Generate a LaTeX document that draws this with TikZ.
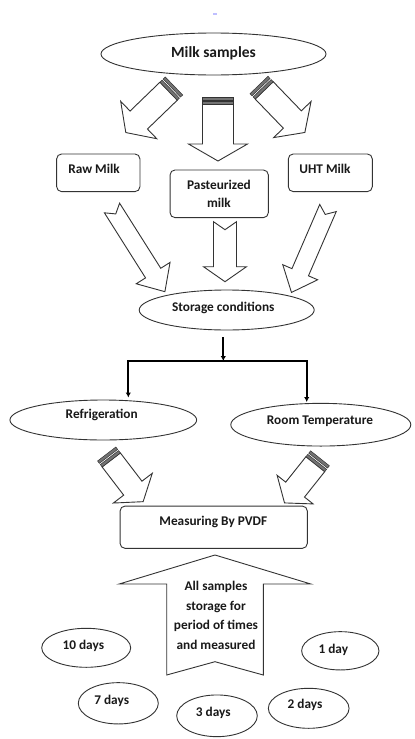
\documentclass[tikz,border=0pt]{standalone}
\usepackage{fontspec}
\setmainfont{Carlito}
\usetikzlibrary{shapes.geometric,arrows.meta,calc}
\tikzset{
  outl/.style={draw=black!80, line width=0.9pt},
  ell/.style={outl, ellipse, inner sep=0pt},
  box/.style={outl, rounded corners=5pt, inner sep=0pt},
  lbl/.style={font=\fontsize{13.3}{18}\selectfont\bfseries, text=black!90, inner sep=0pt, align=center},
  blk/.style={outl, fill=white, line join=miter},
  stripe/.style={draw=black!80, line width=0.5pt, fill=black!55},
  conn/.style={draw=black, line width=1.7pt},
}
% striped block arrow: x, y, angle, length, half shaft, half head, head length
\newcommand{\sarrow}[7]{%
  \begin{scope}[shift={(#1,#2)}, rotate=#3]
    \draw[blk] (7.5,#5) -- ({#4-#7},#5) -- ({#4-#7},#6) -- (#4,0) -- ({#4-#7},-#6) -- ({#4-#7},-#5) -- (7.5,-#5) -- cycle;
    \draw[stripe] (0,-#5) rectangle (3,#5);
    \draw[stripe] (4.5,-#5) rectangle (7.5,#5);
  \end{scope}}
% notched block arrow: x, y, angle, length, half shaft, half head, head length, notch
\newcommand{\narrow}[8]{%
  \begin{scope}[shift={(#1,#2)}, rotate=#3]
    \draw[blk] (0,#5) -- ({#4-#7},#5) -- ({#4-#7},#6) -- (#4,0) -- ({#4-#7},-#6) -- ({#4-#7},-#5) -- (0,-#5) -- (#8,0) -- cycle;
  \end{scope}}
\begin{document}
\begin{tikzpicture}[x=1pt,y=-1pt]
\useasboundingbox (0,0) rectangle (415,739);
\fill[white] (0,0) rectangle (415,739);
\fill[blue!25] (213,12.5) rectangle (217,15);

% top ellipse
\node[ell, minimum width=225pt, minimum height=42pt] (milk) at (213.5,54) {};
\node[lbl, font=\fontsize{15.5}{18}\selectfont\bfseries] (milkT) at (213.5,53.5) {Milk samples};

% striped arrows from milk samples
\sarrow{174}{86}{224}{67}{12.5}{26}{18}
\sarrow{218}{97}{-90}{64}{15.5}{29.5}{17}
\sarrow{259}{85}{-46}{66}{12.5}{26}{18}

% milk type boxes
\node[box, minimum width=83.3pt, minimum height=37.7pt] (raw) at (98.3,172.8) {};
\node[lbl] (rawT) at (94,169) {Raw Milk};
\node[box, minimum width=98.3pt, minimum height=47.7pt] (past) at (219.2,193.8) {};
\node[lbl] (pastT) at (219,194) {Pasteurized\\milk};
\node[box, minimum width=84pt, minimum height=37.7pt] (uht) at (330.3,172.8) {};
\node[lbl] (uhtT) at (325,169) {UHT Milk};

% notched arrows to storage
\narrow{112}{208}{-57.7}{99}{9}{20}{22}{7}
\narrow{225}{221.7}{-90}{60}{11.5}{21.5}{15}{8}
\narrow{328}{208}{-113.4}{92}{9}{19}{22}{7}

% storage
\node[ell, minimum width=175pt, minimum height=40pt] (stor) at (226.7,310) {};
\node[lbl] (storT) at (223.3,308.3) {Storage conditions};

% connectors
\coordinate (s0) at (223.3,337);
\coordinate (j) at (223.3,361);
\coordinate (jl) at (128.3,361);
\coordinate (jr) at (306.7,361);
\coordinate (el) at (128.3,397.5);
\coordinate (er) at (306.7,402);
\draw[conn,-{Latex[length=5pt,width=5.5pt]}] (s0) -- (j);
\draw[conn,line join=miter,{Latex[length=5pt,width=5.5pt]}-{Latex[length=5pt,width=5.5pt]}] (el) -- (jl) -- (jr) -- (er);

% storage condition ellipses
\node[ell, minimum width=186.7pt, minimum height=40pt] (refr) at (103.3,420) {};
\node[lbl] (refrT) at (101.7,415) {Refrigeration};
\node[ell, minimum width=180pt, minimum height=42.7pt] (room) at (320.8,424.7) {};
\node[lbl] (roomT) at (320,421.7) {Room Temperature};

% striped arrows to measuring
\sarrow{106.7}{454}{-52.6}{60}{11.5}{24.5}{17}
\sarrow{320}{458.3}{-128.5}{57}{12}{23}{17}

% measuring box
\node[box, minimum width=187.3pt, minimum height=42.3pt] (meas) at (213.7,527.2) {};
\node[lbl] (measT) at (213.3,521.7) {Measuring By PVDF};

% big up arrow
\narrow{215}{675}{90}{120}{48.3}{95.8}{29}{13.3}
\node[lbl, font=\fontsize{13.3}{19.6}\selectfont\bfseries] (upT) at (216,615.5) {All samples\\storage for\\period of times\\and measured};

% day ellipses
\node[ell, minimum width=89pt, minimum height=39pt] (d10) at (86.2,647.8) {};
\node[lbl] (d10T) at (83.3,646) {10 days};
\node[ell, minimum width=77.3pt, minimum height=38.3pt] (d1) at (340.3,650.8) {};
\node[lbl] (d1T) at (333.3,650) {1 day};
\node[ell, minimum width=80pt, minimum height=41.3pt] (d7) at (118.3,703.3) {};
\node[lbl] (d7T) at (111.7,701) {7 days};
\node[ell, minimum width=80.6pt, minimum height=41.7pt] (d3) at (217,715.8) {};
\node[lbl] (d3T) at (213.3,713.3) {3 days};
\node[ell, minimum width=80.7pt, minimum height=40pt] (d2) at (308.7,708.3) {};
\node[lbl] (d2T) at (305,705) {2 days};
\end{tikzpicture}
\end{document}
